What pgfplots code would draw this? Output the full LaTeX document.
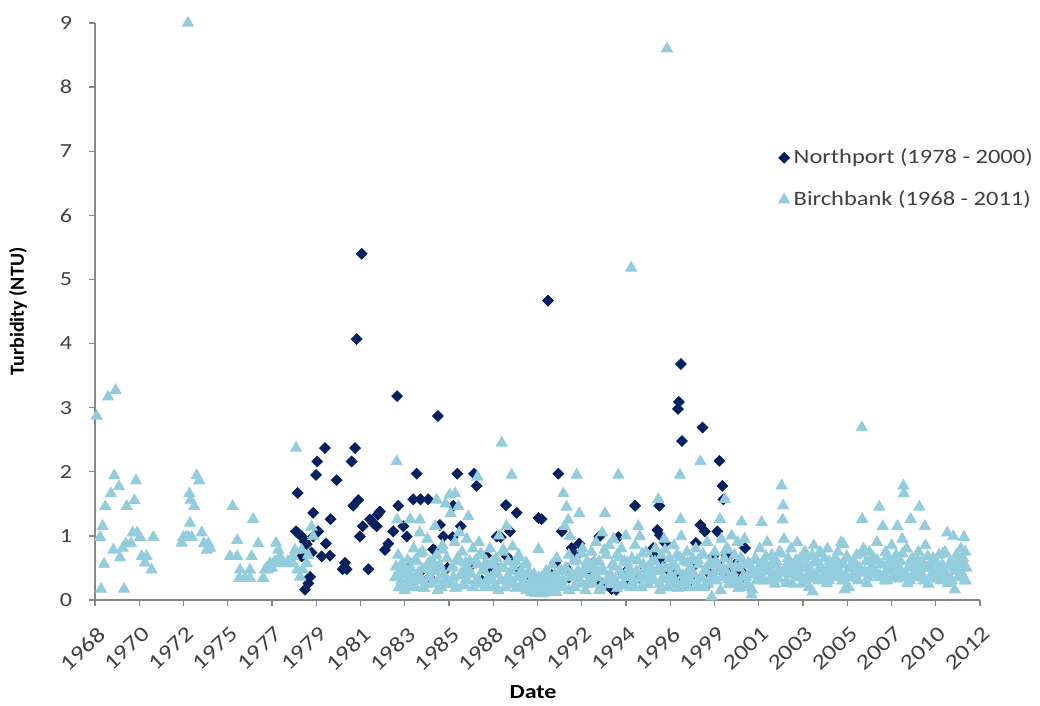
\documentclass[border=0pt]{standalone}
\usepackage{pgfplots}
\pgfplotsset{compat=1.18}
\usepackage{fontspec}
\setmainfont{Carlito}[FakeStretch=1.2]
\newfontfamily\plainfont{Carlito}
\definecolor{navy}{HTML}{002060}
\definecolor{lblue}{HTML}{93CDDD}
\definecolor{axgray}{HTML}{868686}
\definecolor{txt}{HTML}{404040}
\begin{document}
\begin{tikzpicture}
\path (-47.5pt,-51.5pt) rectangle (472.5pt,300pt);
\begin{axis}[
  at={(0pt,0pt)}, anchor=south west,
  scale only axis, width=442.5pt, height=288.5pt,
  xmin=1968.45, xmax=2012.25, ymin=0, ymax=9,
  clip=false,
  axis x line*=bottom, axis y line*=left,
  axis line style={axgray, line width=0.7pt},
  tick align=outside, major tick length=3pt,
  tick style={axgray, line width=0.7pt},
  xtick={1968.45,1970.64,1972.83,1975.02,1977.21,1979.40,1981.59,1983.78,1985.97,1988.16,1990.35,1992.54,1994.73,1996.92,1999.11,2001.30,2003.49,2005.68,2007.87,2010.06,2012.25},
  xticklabels={1968,1970,1972,1975,1977,1979,1981,1983,1985,1988,1990,1992,1994,1996,1999,2001,2003,2005,2007,2010,2012},
  ytick={0,1,...,9},
  /pgf/number format/assume math mode=true,
  ticklabel style={font=\fontsize{10}{12}\selectfont, text=txt},
  xticklabel style={xshift=1pt, yshift=-8pt, rotate=43, anchor=north east, inner sep=1pt, font=\fontsize{10.8}{13}\selectfont},
  yticklabel style={xshift=-5pt},
  xlabel={\bfseries Date},
  ylabel={\plainfont\bfseries Turbidity (NTU)},
  xlabel style={at={(axis description cs:0.495,0)}, anchor=center, yshift=-46pt, font=\fontsize{10}{12}\selectfont, text=black},
  ylabel style={at={(axis description cs:-0.087,0.5)}, anchor=center, rotate=0, font=\fontsize{10}{12}\selectfont, text=black},
  legend style={draw=none, fill=none, inner sep=0pt, at={(0.772,0.73)}, anchor=west, font=\fontsize{10.2}{12}\selectfont, text=txt, row sep=8pt},
  legend cell align=left,
]
\addplot[only marks, mark=square*, mark size=1.9pt, mark options={rotate=45, fill=navy, draw=navy}] coordinates {
(1978.48,1.67)(1978.40,1.07)(1978.51,1.04)(1978.68,0.99)(1978.84,0.91)(1978.93,0.87)(1978.68,0.68)
(1979.09,0.36)(1979.01,0.26)(1978.84,0.16)(1979.25,1.36)(1979.39,1.95)(1979.45,2.16)(1979.83,2.37)
(1979.25,0.99)(1979.50,1.07)(1979.17,0.74)(1979.67,0.68)(1979.88,0.88)(1980.08,0.69)(1980.11,1.26)
(1980.41,1.87)(1980.70,0.48)(1980.82,0.58)(1980.91,0.48)(1981.15,2.16)(1981.32,2.37)(1981.40,4.07)
(1981.65,5.40)(1981.23,1.47)(1981.48,1.56)(1981.56,0.99)(1981.70,1.15)(1981.98,0.48)(1982.06,1.26)
(1982.22,1.20)(1982.39,1.15)(1982.44,1.33)(1982.55,1.38)(1982.80,0.78)(1982.97,0.88)(1983.21,1.07)
(1983.40,3.18)(1983.46,1.47)(1983.71,1.15)(1983.88,0.99)(1984.01,0.58)(1984.20,1.57)(1984.37,1.97)
(1984.56,1.57)(1984.94,1.57)(1985.19,0.79)(1985.42,2.87)(1985.52,1.17)(1985.69,0.99)(1986.15,0.98)
(1986.18,1.47)(1986.38,1.97)(1986.55,1.15)(1987.21,1.97)(1987.34,1.78)(1987.80,0.69)(1988.00,0.42)
(1988.33,0.99)(1988.53,0.98)(1988.79,1.48)(1988.83,0.68)(1988.99,1.07)(1989.15,0.58)(1989.32,1.36)
(1990.40,1.28)(1990.55,1.26)(1990.87,4.67)(1991.05,0.39)(1991.22,0.58)(1991.38,1.97)(1991.55,1.07)
(1991.80,0.49)(1992.04,0.81)(1992.26,0.69)(1992.42,0.88)(1993.11,0.58)(1993.41,0.99)(1993.53,0.26)
(1994.02,0.17)(1994.24,0.16)(1994.35,0.98)(1994.84,0.48)(1994.93,0.26)(1995.18,1.47)(1996.08,0.81)
(1996.17,0.68)(1996.28,1.09)(1996.38,1.47)(1996.41,1.01)(1996.66,0.89)(1996.82,0.47)(1997.40,0.39)
(1997.45,3.68)(1997.35,3.09)(1997.30,2.98)(1997.50,2.48)(1997.73,0.23)(1998.19,0.89)(1998.41,1.17)
(1998.52,2.69)(1998.63,1.07)(1998.72,0.23)(1999.05,0.68)(1999.25,1.07)(1999.35,2.17)(1999.50,1.78)
(1999.55,1.57)(1999.55,0.42)(1999.72,0.70)(1999.88,0.70)(1999.96,0.47)(2000.13,0.55)(2000.37,0.62)
(2000.46,0.44)(2000.62,0.81)
(1984.60,0.45)(1985.00,0.35)(1985.90,0.50)(1986.70,0.40)(1987.10,0.55)(1987.60,0.30)(1988.20,0.55)
(1989.50,0.45)(1989.90,0.36)(1990.20,0.30)(1990.64,0.36)(1990.97,0.36)(1991.90,0.35)(1992.80,0.45)
(1993.80,0.25)(1994.60,0.40)(1995.40,0.35)(1995.70,0.50)(1995.90,0.30)(1996.50,0.60)(1997.10,0.45)
(1997.90,0.35)(1998.00,0.50)(1998.90,0.40)(1999.30,0.55)(2000.00,0.35)(2000.30,0.30)
};
\addlegendentry{Northport (1978 - 2000)}
\addplot[only marks, mark=triangle*, mark size=3.2pt, mark options={fill=lblue, draw=lblue}] coordinates {
(1968.53,2.87)(1969.10,3.17)(1969.47,3.27)(1968.70,0.98)(1968.83,1.15)(1968.96,1.46)(1969.24,1.66)
(1969.40,1.94)(1969.64,1.77)(1968.90,0.56)(1968.75,0.17)(1969.36,0.78)(1969.69,0.66)(1969.82,0.81)
(1969.89,0.17)(1969.98,0.88)(1970.23,0.88)(1970.02,1.46)(1970.40,1.55)(1970.48,1.86)(1970.32,1.05)
(1970.54,1.05)(1970.68,0.98)(1970.76,0.68)(1971.00,0.68)(1970.92,0.58)(1971.25,0.47)(1971.34,0.98)
(1972.74,0.89)(1972.82,0.98)(1972.95,0.98)(1973.05,9.00)(1973.07,0.98)(1973.15,1.20)(1973.24,0.98)
(1973.12,1.66)(1973.19,1.56)(1973.36,1.46)(1973.48,1.94)(1973.61,1.86)(1973.73,1.05)(1973.84,0.88)
(1973.98,0.78)(1974.06,0.88)(1974.14,0.81)
(1975.13,0.68)(1975.26,1.46)(1975.49,0.68)(1975.49,0.93)(1975.63,0.47)(1975.59,0.34)(1975.87,0.34)
(1976.12,0.47)(1976.20,0.68)(1976.28,1.26)(1976.12,0.34)(1976.53,0.88)(1976.78,0.34)(1976.86,0.47)
(1976.95,0.50)(1977.00,0.47)(1977.11,0.57)(1977.20,0.50)(1977.27,0.57)(1977.35,0.60)(1977.41,0.89)
(1977.52,0.78)(1977.60,0.68)(1977.70,0.60)(1977.77,0.57)(1977.94,0.57)(1978.00,0.60)(1978.10,0.57)
(1978.20,0.60)(1978.26,0.68)(1978.35,0.78)(1978.40,2.37)(1978.46,0.47)(1978.60,0.36)(1978.68,0.78)
(1978.73,0.47)(1978.93,0.57)(1979.00,0.70)(1979.17,1.14)(1979.25,0.99)
(1983.30,0.35)(1983.38,2.16)(1983.40,1.25)(1983.45,0.70)(1983.50,0.20)(1983.55,0.45)(1983.62,0.30)
(1983.70,0.55)(1983.78,0.15)(1983.85,0.40)(1983.92,0.62)(1983.98,0.25)
(1984.05,1.26)(1984.08,0.50)(1984.15,0.35)(1984.22,0.80)(1984.30,0.20)(1984.38,0.60)(1984.45,0.42)
(1984.52,1.05)(1984.53,1.25)(1984.58,0.30)(1984.66,0.75)(1984.74,0.18)(1984.82,0.50)(1984.90,0.95)(1984.96,0.35)
(1985.04,0.60)(1985.12,0.25)(1985.20,0.45)(1985.28,1.15)(1985.36,1.56)(1985.35,0.70)(1985.42,0.30)(1985.50,0.55)
(1985.58,0.20)(1985.65,0.85)(1985.72,0.40)(1985.80,1.50)(1985.86,0.65)(1985.93,0.28)
(1986.00,1.64)(1986.05,1.35)(1986.10,0.50)(1986.18,0.35)(1986.26,0.90)(1986.27,1.66)(1986.33,0.20)(1986.40,0.60)
(1986.43,1.46)(1986.48,1.05)(1986.55,0.40)(1986.62,0.75)(1986.70,0.25)(1986.78,0.50)(1986.85,0.95)(1986.92,0.30)(1986.93,1.30)
(1987.00,0.60)(1987.08,0.40)(1987.15,0.80)(1987.38,1.92)(1987.30,0.30)(1987.38,0.55)(1987.45,0.90)
(1987.52,0.25)(1987.60,0.70)(1987.68,0.45)(1987.75,0.20)(1987.82,0.60)(1987.90,0.35)
(1988.00,0.80)(1988.08,0.30)(1988.15,0.55)(1988.22,0.20)(1988.30,0.65)(1988.38,0.40)(1988.45,1.00)
(1988.58,2.45)(1988.52,0.30)(1988.60,0.75)(1988.68,0.50)(1988.75,0.20)(1988.82,1.15)(1988.90,0.60)(1988.96,0.35)
(1989.07,1.95)(1989.05,0.45)(1989.12,0.83)(1989.20,0.25)(1989.28,0.60)(1989.35,0.35)(1989.42,0.70)
(1989.50,0.20)(1989.58,0.45)(1989.65,0.30)(1989.72,0.55)(1989.80,0.15)(1989.88,0.40)(1989.95,0.25)
(1990.02,0.30)(1990.10,0.15)(1990.18,0.40)(1990.25,0.10)(1990.32,0.25)(1990.40,0.79)(1990.48,0.15)
(1990.55,0.35)(1990.62,0.10)(1990.70,0.20)(1990.78,0.45)(1990.85,0.15)(1990.92,0.30)
(1991.00,0.25)(1991.08,0.55)(1991.15,0.12)(1991.22,0.40)(1991.30,0.65)(1991.38,0.20)(1991.45,0.45)
(1991.55,0.30)(1991.63,1.66)(1991.70,1.15)(1991.79,1.45)(1991.87,1.25)(1991.96,0.99)(1991.75,0.50)(1991.90,0.70)
(1992.05,0.35)(1992.12,0.60)(1992.20,0.20)(1992.29,1.95)(1992.35,0.45)(1992.42,1.35)(1992.50,0.25)
(1992.58,0.80)(1992.65,0.40)(1992.72,0.15)(1992.80,0.60)(1992.88,0.30)(1992.95,0.50)
(1993.02,0.75)(1993.10,0.25)(1993.18,0.50)(1993.25,0.90)(1993.32,0.35)(1993.40,0.60)(1993.48,0.20)
(1993.55,1.05)(1993.62,0.45)(1993.69,1.35)(1993.75,0.70)(1993.82,0.30)(1993.90,0.85)(1993.96,0.40)
(1994.05,0.55)(1994.12,0.95)(1994.20,0.30)(1994.28,0.70)(1994.35,1.95)(1994.42,0.45)(1994.50,0.80)
(1994.58,0.25)(1994.65,0.60)(1994.72,1.00)(1994.80,0.35)(1994.88,0.50)(1994.95,0.20)(1994.98,5.18)
(1995.02,0.65)(1995.10,0.30)(1995.18,0.85)(1995.25,0.45)(1995.34,1.15)(1995.42,0.99)(1995.50,0.20)
(1995.58,0.55)(1995.65,0.35)(1995.72,0.75)(1995.80,0.25)(1995.88,0.50)(1995.95,0.40)
(1996.02,0.60)(1996.10,0.30)(1996.18,0.80)(1996.25,0.45)(1996.33,1.57)(1996.40,0.25)(1996.48,0.70)
(1996.55,0.35)(1996.62,0.95)(1996.70,0.50)(1996.76,8.60)(1996.80,0.20)(1996.88,0.65)(1996.95,0.40)
(1997.02,0.55)(1997.10,0.85)(1997.18,0.30)(1997.25,0.70)(1997.32,0.45)(1997.40,1.95)(1997.43,1.26)
(1997.46,0.99)(1997.52,0.25)(1997.60,0.60)(1997.68,0.35)(1997.75,0.75)(1997.82,0.20)(1997.90,0.50)(1997.96,0.30)
(1998.03,0.65)(1998.10,0.40)(1998.18,0.80)(1998.25,0.25)(1998.32,0.55)(1998.41,2.16)(1998.45,0.35)
(1998.52,0.70)(1998.60,0.20)(1998.68,0.45)(1998.75,0.90)(1998.82,0.30)(1998.90,0.60)(1998.97,0.05)
(1999.05,0.40)(1999.12,0.75)(1999.20,0.30)(1999.28,0.55)(1999.38,1.26)(1999.45,0.95)(1999.52,0.35)
(1999.60,0.65)(1999.62,1.57)(1999.68,0.45)(1999.75,0.80)(1999.82,0.25)(1999.90,0.55)(1999.96,1.00)
(2000.03,0.40)(2000.10,0.70)(2000.18,0.30)(2000.25,0.90)(2000.32,0.50)(2000.40,0.25)(2000.45,1.22)
(2000.52,0.60)(2000.60,0.95)(2000.68,0.35)(2000.75,0.55)(2000.82,0.20)(2000.90,0.45)(2000.95,0.08)(2000.98,0.16)
(2001.05,0.40)(2001.12,0.65)(2001.20,0.30)(2001.28,0.50)(2001.35,0.80)(2001.44,1.21)(2001.50,0.35)
(2001.58,0.60)(2001.65,0.45)(2001.72,0.90)(2001.80,0.30)(2001.88,0.55)(2001.95,0.70)
(2002.02,0.40)(2002.10,0.25)(2002.18,0.60)(2002.25,0.35)(2002.32,0.75)(2002.43,1.78)(2002.51,1.47)
(2002.48,1.25)(2002.55,0.95)(2002.60,0.50)(2002.68,0.30)(2002.75,0.65)(2002.82,0.40)(2002.90,0.80)(2002.96,0.25)
(2003.05,0.55)(2003.12,0.35)(2003.20,0.90)(2003.28,0.45)(2003.35,0.65)(2003.42,0.25)(2003.50,0.50)
(2003.58,0.75)(2003.65,0.35)(2003.72,0.55)(2003.80,0.20)(2003.88,0.45)(2003.95,0.70)(2003.97,0.13)
(2004.02,0.85)(2004.10,0.40)(2004.18,0.60)(2004.25,0.30)(2004.32,0.75)(2004.40,0.50)(2004.48,0.35)
(2004.55,0.65)(2004.62,0.45)(2004.70,0.80)(2004.78,0.30)(2004.85,0.55)(2004.92,0.40)
(2005.00,0.60)(2005.08,0.35)(2005.15,0.50)(2005.22,0.75)(2005.30,0.45)(2005.38,0.90)(2005.45,0.30)
(2005.49,0.87)(2005.52,0.55)(2005.55,0.16)(2005.60,0.40)(2005.68,0.65)(2005.75,0.20)(2005.82,0.50)(2005.90,0.35)
(2006.00,0.55)(2006.08,0.40)(2006.15,0.70)(2006.22,0.30)(2006.30,0.50)(2006.40,2.69)(2006.42,1.26)
(2006.48,0.80)(2006.55,0.45)(2006.62,0.60)(2006.70,0.35)(2006.78,0.75)(2006.85,0.50)(2006.92,0.40)
(2007.00,0.65)(2007.08,0.45)(2007.15,0.90)(2007.22,0.35)(2007.27,1.45)(2007.35,0.55)(2007.44,1.15)
(2007.50,0.40)(2007.58,0.75)(2007.65,0.30)(2007.72,0.60)(2007.80,0.45)(2007.88,0.85)(2007.95,0.35)
(2008.02,0.50)(2008.10,0.70)(2008.16,1.15)(2008.25,0.40)(2008.32,0.60)(2008.40,0.95)(2008.46,1.78)
(2008.48,1.66)(2008.55,0.35)(2008.62,0.80)(2008.70,0.50)(2008.78,0.30)(2008.82,1.26)(2008.90,0.65)(2008.96,0.40)
(2009.05,0.55)(2009.12,0.35)(2009.20,0.75)(2009.25,1.45)(2009.30,0.45)(2009.38,0.60)(2009.45,0.30)
(2009.52,1.15)(2009.55,0.85)(2009.62,0.50)(2009.70,0.25)(2009.78,0.55)(2009.85,0.40)(2009.92,0.65)
(2010.00,0.35)(2010.08,0.60)(2010.15,0.45)(2010.22,0.70)(2010.30,0.30)(2010.38,0.55)(2010.45,0.40)
(2010.52,0.75)(2010.63,1.05)(2010.70,0.35)(2010.78,0.55)(2010.85,0.30)(2010.93,0.99)(2011.00,0.16)
(2011.02,0.50)(2011.08,0.70)(2011.15,0.35)(2011.22,0.55)(2011.30,0.80)(2011.38,0.40)(2011.46,0.98)
(2011.42,0.65)(2011.50,0.30)(2011.52,0.75)(2011.58,0.50)
(1983.35,0.52)(1983.41,0.38)(1983.54,0.22)(1983.66,0.58)(1983.79,0.45)(1983.91,0.28)
(1984.04,0.42)(1984.16,0.20)(1984.29,0.62)(1984.41,0.33)(1984.54,0.72)(1984.66,0.48)(1984.79,0.25)(1984.91,0.55)
(1985.04,0.35)(1985.16,0.60)(1985.29,0.45)(1985.41,0.15)(1985.54,0.50)(1985.66,0.78)(1985.79,0.32)(1985.91,0.24)
(1986.04,0.28)(1986.16,0.52)(1986.29,0.18)(1986.41,0.66)(1986.54,0.38)(1986.66,0.22)(1986.79,0.58)(1986.91,0.45)
(1987.04,0.42)(1987.16,0.20)(1987.29,0.62)(1987.41,0.33)(1987.54,0.72)(1987.66,0.48)(1987.79,0.25)(1987.91,0.55)
(1988.04,0.35)(1988.16,0.60)(1988.29,0.45)(1988.41,0.15)(1988.54,0.50)(1988.66,0.78)(1988.79,0.32)(1988.91,0.24)
(1989.04,0.28)(1989.16,0.52)(1989.29,0.18)(1989.41,0.66)(1989.54,0.38)(1989.66,0.22)(1989.79,0.58)(1989.91,0.45)
(1990.04,0.12)(1990.16,0.22)(1990.29,0.18)(1990.41,0.35)(1990.54,0.10)(1990.66,0.28)(1990.79,0.20)(1990.91,0.40)
(1991.04,0.18)(1991.16,0.30)(1991.29,0.12)(1991.41,0.28)(1991.54,0.45)(1991.66,0.20)(1991.79,0.35)(1991.91,0.15)
(1992.04,0.42)(1992.16,0.20)(1992.29,0.62)(1992.41,0.33)(1992.54,0.72)(1992.66,0.48)(1992.79,0.25)(1992.91,0.55)
(1993.04,0.35)(1993.16,0.60)(1993.29,0.45)(1993.41,0.15)(1993.54,0.50)(1993.66,0.78)(1993.79,0.32)(1993.91,0.24)
(1994.04,0.28)(1994.16,0.52)(1994.29,0.18)(1994.41,0.66)(1994.54,0.38)(1994.66,0.22)(1994.79,0.58)(1994.91,0.45)
(1995.04,0.42)(1995.16,0.20)(1995.29,0.62)(1995.41,0.33)(1995.54,0.72)(1995.66,0.48)(1995.79,0.25)(1995.91,0.55)
(1996.04,0.35)(1996.16,0.60)(1996.29,0.45)(1996.41,0.15)(1996.54,0.50)(1996.66,0.78)(1996.79,0.32)(1996.91,0.24)
(1997.04,0.28)(1997.16,0.52)(1997.29,0.18)(1997.41,0.66)(1997.54,0.38)(1997.66,0.22)(1997.79,0.58)(1997.91,0.45)
(1998.04,0.42)(1998.16,0.20)(1998.29,0.62)(1998.41,0.33)(1998.54,0.72)(1998.66,0.48)(1998.79,0.25)(1998.91,0.55)
(1999.04,0.35)(1999.16,0.60)(1999.29,0.45)(1999.41,0.15)(1999.54,0.50)(1999.66,0.78)(1999.79,0.32)(1999.91,0.24)
(2000.04,0.28)(2000.16,0.52)(2000.29,0.18)(2000.41,0.66)(2000.54,0.38)(2000.66,0.22)(2000.79,0.58)(2000.91,0.45)
(2001.04,0.45)(2001.16,0.62)(2001.29,0.38)(2001.41,0.55)(2001.54,0.30)(2001.66,0.68)(2001.79,0.50)(2001.91,0.35)
(2002.04,0.58)(2002.16,0.33)(2002.29,0.48)(2002.41,0.72)(2002.54,0.42)(2002.66,0.26)(2002.79,0.60)(2002.91,0.52)
(2003.04,0.45)(2003.16,0.62)(2003.29,0.38)(2003.41,0.55)(2003.54,0.30)(2003.66,0.68)(2003.79,0.50)(2003.91,0.35)
(2004.04,0.58)(2004.16,0.33)(2004.29,0.48)(2004.41,0.72)(2004.54,0.42)(2004.66,0.26)(2004.79,0.60)(2004.91,0.52)
(2005.04,0.45)(2005.16,0.62)(2005.29,0.38)(2005.41,0.55)(2005.54,0.30)(2005.66,0.68)(2005.79,0.50)(2005.91,0.35)
(2006.04,0.58)(2006.16,0.33)(2006.29,0.48)(2006.41,0.72)(2006.54,0.42)(2006.66,0.26)(2006.79,0.60)(2006.91,0.52)
(2007.04,0.45)(2007.16,0.62)(2007.29,0.38)(2007.41,0.55)(2007.54,0.30)(2007.66,0.68)(2007.79,0.50)(2007.91,0.35)
(2008.04,0.58)(2008.16,0.33)(2008.29,0.48)(2008.41,0.72)(2008.54,0.42)(2008.66,0.26)(2008.79,0.60)(2008.91,0.52)
(2009.04,0.45)(2009.16,0.62)(2009.29,0.38)(2009.41,0.55)(2009.54,0.30)(2009.66,0.68)(2009.79,0.50)(2009.91,0.35)
(2010.04,0.58)(2010.16,0.33)(2010.29,0.48)(2010.41,0.72)(2010.54,0.42)(2010.66,0.26)(2010.79,0.60)(2010.91,0.52)
(2011.04,0.45)(2011.16,0.62)(2011.29,0.38)(2011.41,0.55)(2011.54,0.30)
};
\addlegendentry{Birchbank (1968 - 2011)}
\end{axis}
\end{tikzpicture}
\end{document}
